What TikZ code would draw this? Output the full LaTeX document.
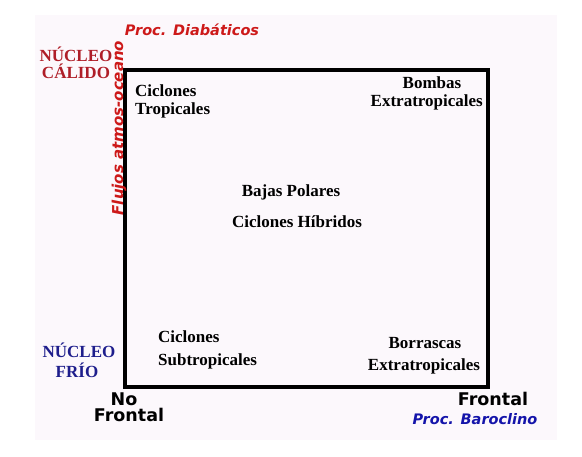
\documentclass[tikz,border=0pt]{standalone}
\usepackage{fontspec}
\setmainfont{Liberation Serif}
\newfontfamily\labelsans{DejaVu Sans}
\usepackage{tikz}
\usetikzlibrary{
  positioning % for relative positioning of the labels
}
\definecolor{warmred}{RGB}{205,25,25}
\definecolor{corered}{RGB}{175,30,40}
\definecolor{coldblue}{RGB}{30,30,140}
\definecolor{barblue}{RGB}{20,20,170}
\definecolor{paper}{RGB}{252,248,252}
\tikzset{
  cyclone/.style={ % style for the cyclone types inside the box
    font=\bfseries\fontsize{17}{20}\selectfont,
    inner sep=0pt, anchor=base,
  },
  core/.style={ % style for the warm/cold core labels
    cyclone,
  },
  process/.style={ % style for the process labels
    font=\labelsans\bfseries\itshape\fontsize{14.5}{16}\selectfont,
    inner sep=0pt, anchor=base,
  },
  front/.style={ % style for frontal / no frontal
    font=\labelsans\bfseries\fontsize{17.5}{18}\selectfont,
    inner sep=0pt, anchor=base,
  },
  frame/.style={ % style for the diagram box
    draw=black, line width=4pt,
  },
}
\begin{document}
\begin{tikzpicture}[x=1pt,y=-1pt]
  \useasboundingbox (0,0) rectangle (582,457);
  \fill[paper] (35,15) rectangle (557,440);
  \draw[frame] (125,70) rectangle (488,387);

  % axis labels
  \node[process,text=warmred] (diab) at (192,36) {Proc. Diab\'aticos};
  \node[process,text=warmred,font=\labelsans\bfseries\itshape\fontsize{15}{16}\selectfont,rotate=90] (flux) at (123,128) {Flujos atmos-oceano};
  \node[core,text=corered] (warm1) at (76,62) {N\'UCLEO};
  \node[core,text=corered] (warm2) at (76,79) {C\'ALIDO};
  \node[core,text=coldblue] (cold1) at (79,358) {N\'UCLEO};
  \node[core,text=coldblue] (cold2) at (77,378) {FR\'IO};
  \node[front] (nofront1) at (124,406) {No};
  \node[front] (nofront2) at (129,422) {Frontal};
  \node[front] (front) at (493,406) {Frontal};
  \node[process,text=barblue] (baro) at (475,425) {Proc. Baroclino};

  % cyclone types
  \node[cyclone,anchor=base west] (trop1) at (135,97) {Ciclones};
  \node[cyclone,anchor=base west] (trop2) at (135,115) {Tropicales};
  \node[cyclone] (bomb1) at (432,89) {Bombas};
  \node[cyclone,anchor=base east] (bomb2) at (483,107) {Extratropicales};
  \node[cyclone] (polar) at (291,197) {Bajas Polares};
  \node[cyclone] (hybrid) at (297,228) {Ciclones H\'ibridos};
  \node[cyclone,anchor=base west] (sub1) at (158,343) {Ciclones};
  \node[cyclone,anchor=base west] (sub2) at (158,366) {Subtropicales};
  \node[cyclone] (borr1) at (425,349) {Borrascas};
  \node[cyclone] (borr2) at (424,371) {Extratropicales};
\end{tikzpicture}
\end{document}
